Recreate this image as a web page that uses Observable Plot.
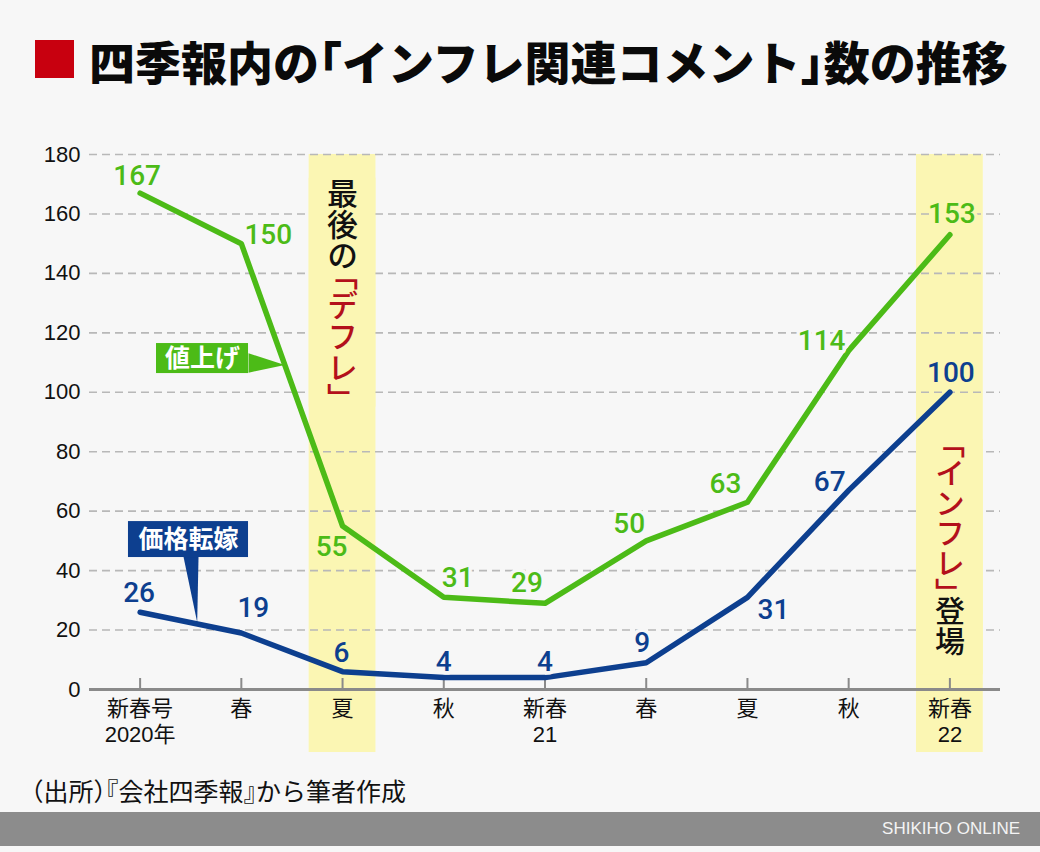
<!DOCTYPE html>
<html><head><meta charset="utf-8">
<script src="https://cdn.jsdelivr.net/npm/d3@7"></script>
<script src="https://cdn.jsdelivr.net/npm/@observablehq/plot@0.6"></script>
<style>
body{margin:0;background:#f7f7f7;}
#wrap{position:relative;width:1040px;height:852px;background:#f7f7f7;overflow:hidden;font-family:"Noto Sans CJK JP",sans-serif;color:#111;}
#mark{position:absolute;left:35px;top:40px;width:39px;height:38px;background:#c8000f;}
#title{position:absolute;left:89px;top:37px;font-size:46px;font-weight:900;line-height:46px;white-space:nowrap;color:#0a0a0a;}
.h{font-feature-settings:"halt";}
#chart{position:absolute;left:0;top:120px;}
#caption{position:absolute;left:31px;top:778px;font-size:25px;line-height:25px;white-space:nowrap;}
#footer{position:absolute;left:0;top:812px;width:1040px;height:34px;background:#8c8c8c;}
#footer span{position:absolute;right:20px;top:0;line-height:34px;font-family:"Liberation Sans",sans-serif;font-size:17px;color:#f4f4f4;}
</style></head>
<body>
<div id="wrap">
  <div id="mark"></div>
  <div id="title">四季報内の<span class="h">「</span>インフレ関連コメント<span class="h">」</span>数の推移</div>
  <div id="chart"></div>
  <div id="caption"><span class="h">（</span>出所<span class="h">）『</span>会社四季報<span class="h">』</span>から筆者作成</div>
  <div id="footer"><span>SHIKIHO ONLINE</span></div>
</div>
<script>
// ---- data ----
const categories = ["新春号\n2020年", "春", "夏", "秋", "新春\n21", "春", "夏", "秋", "新春\n22"];
const priceHike = [167, 150, 55, 31, 29, 50, 63, 114, 153];      // 値上げ
const passThrough = [26, 19, 6, 4, 4, 9, 31, 67, 100];           // 価格転嫁
const yTicks = [0, 20, 40, 60, 80, 100, 120, 140, 160, 180];
const highlighted = [2, 8];
const seriesNames = ["値上げ", "価格転嫁"];

// ---- styling / annotation layout ----
const GREEN = "#4cbb17", BLUE = "#0d3f8f", RED = "#b3101b", BAND = "#fbf6b3", BG = "#f7f7f7";
const greenOffsets = [[-3,-17],[27,-9],[-11,21],[14,-19],[-18,-20],[-17,-17],[-22,-18],[-27,-10],[2,-21]];
const blueOffsets  = [[-1,-19],[12,-25],[-1,-19],[0,-16],[0,-16],[-4,-20],[26,13],[-19,-8],[1,-19]];
const hikeBox = {x1: 0.162, x2: 1.071, y1: 106.3, y2: 116.4, tx: 0.616, ty: 111.2};
const hikePointer = [{x:1.071,y:113.1},{x:1.43,y:109.2},{x:1.071,y:106.6}];
const passBox = {x1: -0.115, x2: 1.071, y1: 44.4, y2: 56.5, tx: 0.478, ty: 50.3};
const passPointer = [{x:0.429,y:44.6},{x:0.564,y:22.6},{x:0.577,y:44.6}];
const bandNotes = [
  {x: 2, y: 159.9, text: "最後の", fill: "#111", size: 31},
  {x: 2, y: 122.2, text: "「デフレ」", fill: RED, size: 31},
  {x: 8, y: 61.0, text: "「インフレ」", fill: RED, size: 30},
  {x: 8, y: 24.8, text: "登場", fill: "#111", size: 30}
];
const bandCovers = [{x: 2, y1: 95, y2: 172}, {x: 8, y1: 5, y2: 84}];

const idx = d3.range(categories.length);
const hikeData = idx.map(i => ({i, v: priceHike[i], s: seriesNames[0]}));
const passData = idx.map(i => ({i, v: passThrough[i], s: seriesNames[1]}));

const numFont = "Roboto, 'Liberation Sans', sans-serif";
const labelMarks = [];
hikeData.forEach((d, k) => labelMarks.push(Plot.text([d], {
  x: "i", y: "v", text: d => String(d.v), dx: greenOffsets[k][0], dy: greenOffsets[k][1],
  fill: GREEN, fontSize: 28, fontWeight: 500, fontFamily: numFont,
  stroke: highlighted.includes(d.i) ? BAND : BG, strokeWidth: 7
})));
passData.forEach((d, k) => labelMarks.push(Plot.text([d], {
  x: "i", y: "v", text: d => String(d.v), dx: blueOffsets[k][0], dy: blueOffsets[k][1],
  fill: BLUE, fontSize: 28, fontWeight: 500, fontFamily: numFont,
  stroke: highlighted.includes(d.i) ? BAND : BG, strokeWidth: 7
})));

const chart = Plot.plot({
  width: 1040, height: 650,
  marginTop: 34, marginBottom: 81, marginLeft: 89, marginRight: 40,
  x: {domain: [-0.5, 8.5]},
  y: {domain: [0, 180]},
  style: {fontFamily: "'Liberation Sans','Noto Sans CJK JP',sans-serif", background: "transparent", overflow: "visible", color: "#111"},
  marks: [
    Plot.rect(highlighted, {x1: d => d - 0.33, x2: d => d + 0.33, y1: -21.2, y2: 180, fill: BAND}),
    Plot.ruleY(yTicks.filter(t => t > 0), {stroke: "#b8b8b8", strokeWidth: 1.6, strokeDasharray: "8,5"}),
    Plot.rect(bandCovers, {x1: d => d.x - 0.33, x2: d => d.x + 0.33, y1: "y1", y2: "y2", fill: BAND}),
    Plot.axisY(yTicks, {tickSize: 0, tickPadding: 9, fontSize: 22, label: null, fill: "#111"}),
    Plot.axisX(idx, {tickSize: 0, tickPadding: 9, fontSize: 22, lineHeight: 1.15, label: null, fill: "#111",
      tickFormat: i => categories[i], fontFamily: "'Liberation Sans','Noto Sans CJK JP',sans-serif"}),
    Plot.ruleY([0], {stroke: "#8a8a8a", strokeWidth: 3}),
    Plot.ruleX(idx, {x: d => d, y1: 0, y2: 3.7, stroke: "#8a8a8a", strokeWidth: 2}),
    Plot.line(passData, {x: "i", y: "v", stroke: BLUE, strokeWidth: 5.5, strokeLinejoin: "round"}),
    Plot.line(hikeData, {x: "i", y: "v", stroke: GREEN, strokeWidth: 5.5, strokeLinejoin: "round"}),
    ...labelMarks,
    // callouts
    Plot.line(hikePointer, {x: "x", y: "y", fill: GREEN, stroke: "none"}),
    Plot.rect([hikeBox], {x1: "x1", x2: "x2", y1: "y1", y2: "y2", fill: GREEN}),
    Plot.text([hikeBox], {x: "tx", y: "ty", text: () => seriesNames[0], fill: "white", fontSize: 25, fontWeight: 700, fontFamily: "'Noto Sans CJK JP',sans-serif"}),
    Plot.line(passPointer, {x: "x", y: "y", fill: BLUE, stroke: "none"}),
    Plot.rect([passBox], {x1: "x1", x2: "x2", y1: "y1", y2: "y2", fill: BLUE}),
    Plot.text([passBox], {x: "tx", y: "ty", text: () => seriesNames[1], fill: "white", fontSize: 25, fontWeight: 700, fontFamily: "'Noto Sans CJK JP',sans-serif"}),
    // vertical notes
    ...bandNotes.map(n => Plot.text([n], {x: "x", y: "y", text: "text", fill: "fill", fontSize: n.size, fontWeight: 500, className: "vnote", fontFamily: "'Noto Sans CJK JP',sans-serif"}))
  ]
});
d3.select(chart).selectAll("g.vnote text, g.vnote tspan").attr("dy", null);
d3.select(chart).selectAll("g.vnote text").style("writing-mode", "vertical-rl");
document.getElementById("chart").appendChild(chart);
</script>
</body></html>
